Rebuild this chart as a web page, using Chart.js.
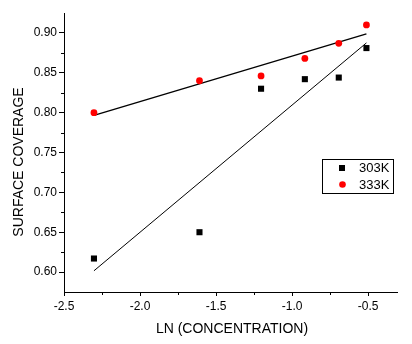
<!DOCTYPE html>
<html>
<head>
<meta charset="utf-8">
<script src="https://cdn.jsdelivr.net/npm/chart.js@4.4.0/dist/chart.umd.min.js"></script>
<style>
  html, body { margin: 0; padding: 0; background: #fff; }
  #wrap { width: 412px; height: 344px; }
</style>
</head>
<body>
<div id="wrap"><canvas id="coverageChart" width="412" height="344"></canvas></div>
<script>
// ln(concentration) values
const lnConc = [-2.303, -1.609, -1.204, -0.916, -0.693, -0.511];

// surface coverage at each temperature
const cov303 = [0.617, 0.650, 0.830, 0.842, 0.844, 0.881];
const cov333 = [0.800, 0.840, 0.846, 0.868, 0.887, 0.910];

// straight-line fits (end points)
const fitX = [-2.303, -0.511];
const fit303 = [0.6016, 0.8875];
const fit333 = [0.7966, 0.8987];

// axis ticks
const xMajor = [-2.5, -2.0, -1.5, -1.0, -0.5];
const xMinor = [-2.25, -1.75, -1.25, -0.75];
const yMajor = [0.60, 0.65, 0.70, 0.75, 0.80, 0.85, 0.90];
const yMinor = [0.625, 0.675, 0.725, 0.775, 0.825, 0.875];

const legendLabels = ['303K', '333K'];

const FONT = '"Liberation Sans", Arial, sans-serif';

function toPoints(xs, ys) {
  return xs.map((x, i) => ({ x: x, y: ys[i] }));
}

// minor ticks, axis titles and the boxed legend
const extrasPlugin = {
  id: 'extras',
  afterDraw(chart) {
    const ctx = chart.ctx;
    const xs = chart.scales.x;
    const ys = chart.scales.y;
    const area = chart.chartArea;
    ctx.save();
    ctx.strokeStyle = '#000';
    ctx.lineWidth = 1;
    ctx.beginPath();
    xMinor.forEach(v => {
      const px = Math.round(xs.getPixelForValue(v)) + 0.5;
      ctx.moveTo(px, area.bottom);
      ctx.lineTo(px, area.bottom + 3);
    });
    yMinor.forEach(v => {
      const py = Math.round(ys.getPixelForValue(v)) + 0.5;
      ctx.moveTo(area.left, py);
      ctx.lineTo(area.left - 3, py);
    });
    ctx.stroke();

    // axis titles
    ctx.fillStyle = '#000';
    ctx.font = '14px ' + FONT;
    ctx.textAlign = 'center';
    ctx.textBaseline = 'middle';
    ctx.fillText('LN (CONCENTRATION)', 232, 329);
    ctx.save();
    ctx.translate(19, 162);
    ctx.rotate(-Math.PI / 2);
    ctx.fillText('SURFACE COVERAGE', 0, 0);
    ctx.restore();

    // legend
    ctx.strokeRect(322.5, 159.5, 71, 34);
    ctx.fillStyle = '#000';
    ctx.fillRect(339, 165, 6, 6);
    ctx.fillStyle = '#ff0000';
    ctx.beginPath();
    ctx.arc(342.5, 184.5, 3.3, 0, Math.PI * 2);
    ctx.fill();
    ctx.fillStyle = '#000';
    ctx.font = '13px ' + FONT;
    ctx.textAlign = 'left';
    ctx.fillText(legendLabels[0], 359, 168.5);
    ctx.fillText(legendLabels[1], 359, 185);
    ctx.restore();
  }
};

const ctx = document.getElementById('coverageChart').getContext('2d');

new Chart(ctx, {
  type: 'scatter',
  data: {
    datasets: [
      {
        label: legendLabels[0],
        data: toPoints(lnConc, cov303),
        pointStyle: 'rect',
        pointRadius: 4.3,
        backgroundColor: '#000',
        borderColor: '#000',
        borderWidth: 0
      },
      {
        label: legendLabels[1],
        data: toPoints(lnConc, cov333),
        pointStyle: 'circle',
        pointRadius: 3.4,
        backgroundColor: '#ff0000',
        borderColor: '#ff0000',
        borderWidth: 0
      },
      {
        label: 'fit 303K',
        type: 'line',
        data: toPoints(fitX, fit303),
        borderColor: '#000',
        borderWidth: 1,
        pointRadius: 0,
        fill: false
      },
      {
        label: 'fit 333K',
        type: 'line',
        data: toPoints(fitX, fit333),
        borderColor: '#000',
        borderWidth: 1.3,
        pointRadius: 0,
        fill: false
      }
    ]
  },
  options: {
    responsive: false,
    animation: false,
    layout: { padding: { top: 13, right: 15, left: 0, bottom: 0 } },
    plugins: {
      legend: { display: false },
      tooltip: { enabled: false }
    },
    scales: {
      x: {
        type: 'linear',
        min: -2.5,
        max: -0.31,
        afterBuildTicks: scale => { scale.ticks = xMajor.map(v => ({ value: v })); },
        afterFit: scale => { scale.height = 52; },
        border: { display: true, color: '#000', width: 1 },
        grid: { drawOnChartArea: false, drawTicks: true, tickLength: 4, color: '#000' },
        ticks: {
          color: '#000',
          padding: 3,
          maxRotation: 0,
          font: { family: FONT, size: 12 },
          callback: v => v.toFixed(1)
        }
      },
      y: {
        type: 'linear',
        min: 0.575,
        max: 0.925,
        afterBuildTicks: scale => { scale.ticks = yMajor.map(v => ({ value: v })); },
        afterFit: scale => { scale.width = 64; },
        border: { display: true, color: '#000', width: 1 },
        grid: { drawOnChartArea: false, drawTicks: true, tickLength: 5, color: '#000' },
        ticks: {
          color: '#000',
          padding: 2,
          font: { family: FONT, size: 12 },
          callback: v => v.toFixed(2)
        }
      }
    }
  },
  plugins: [extrasPlugin]
});
</script>
</body>
</html>
